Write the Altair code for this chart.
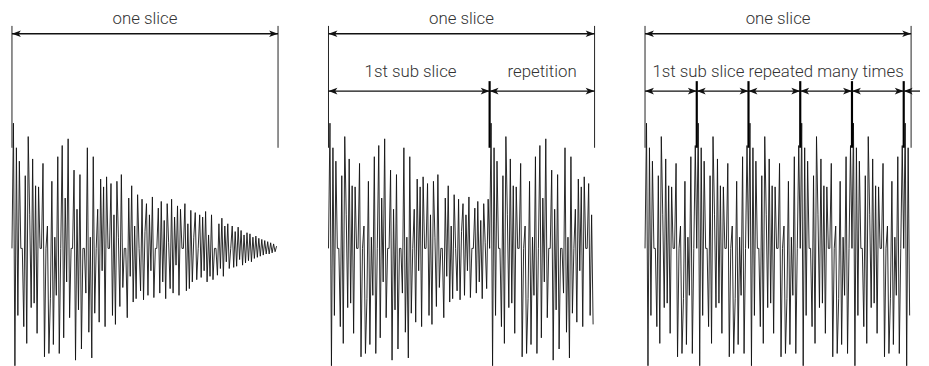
import altair as alt
import pandas as pd

# Waveform samples of the full slice (panel 1)
base_wave = [
    # first 35 samples (the short sub slice of panel 3)
    0.00, 1.12, -1.05, 0.90, -0.60, 0.78, 0.00, 0.00, -0.70, 0.65,
    -0.85, 1.00, 0.30, -0.53, 0.80, -0.49, 0.56, -0.76, 0.55, 0.00,
    0.00, 0.76, -0.97, 0.00, 0.20, -0.94, -0.45, 0.60, -0.86, 0.10,
    -0.42, 0.82, -0.94, 0.00, 0.92,
    # 35..55
    -0.80, 0.45, -0.30, 0.98, -0.62, 0.00, 0.00, 0.70, -1.00, 0.35,
    -0.55, 0.66, -0.90, 0.00, 0.00, -0.40, 0.90, -0.75, 0.10, -0.98, 0.82,
    # 56..83
    -0.58, 0.00, 0.35, -0.66, 0.62, -0.20, 0.55, -0.70, 0.64, 0.00,
    0.00, 0.58, -0.60, 0.30, -0.68, 0.60, 0.10, -0.52, 0.66, -0.35,
    0.00, 0.00, -0.62, 0.45, -0.25, 0.56, -0.48, 0.20,
    # 84..120
    -0.45, 0.48, 0.00, -0.38, 0.44, -0.46, 0.15, 0.40, -0.42, 0.30,
    -0.20, 0.46, -0.44, 0.00, 0.00, 0.36, -0.40, 0.42, -0.30, 0.25,
    -0.45, 0.40, 0.05, -0.36, 0.44, -0.40, 0.28, -0.15, 0.38, -0.42,
    0.35, 0.00, 0.00, 0.40, -0.38, 0.22, -0.36,
    # 121..145
    0.34, -0.30, 0.10, 0.32, -0.28, 0.00, 0.30, -0.26, 0.28, -0.20,
    0.33, -0.30, 0.12, -0.25, 0.30, -0.28, 0.00, 0.00, -0.24, 0.22,
    -0.18, 0.27, -0.25, 0.20, -0.12,
    # 146..165
    0.22, -0.18, 0.00, 0.20, -0.17, 0.15, -0.16, 0.19, -0.10, 0.16,
    -0.15, 0.12, -0.13, 0.14, -0.11, 0.13, -0.12, 0.10, -0.09, 0.11,
    # 166..179
    -0.08, 0.09, -0.07, 0.08, -0.06, 0.07, -0.05, 0.06, -0.05, 0.05,
    -0.04, 0.04, -0.03, 0.02,
]
slice_len = 180          # samples in one slice
sub_len_2 = 109          # first sub slice in panel 2
sub_len_3 = 35           # first sub slice in panel 3

panel2_wave = base_wave[:sub_len_2] + base_wave[:slice_len - sub_len_2]
panel3_wave = (base_wave[:sub_len_3] * 6)[:slice_len]
waves = [base_wave, panel2_wave, panel3_wave]

# annotation levels (same units as waveform amplitude)
TEXT_Y = 2.05
ARROW_Y = 1.92
SUB_TEXT_Y = 1.575
SUB_ARROW_Y = 1.407
LINE_TOP = 1.99
THICK_TOP = 1.496
LINE_BOTTOM = 0.90

labels = [
    [("one slice", 90, TEXT_Y)],
    [("one slice", 90, TEXT_Y), ("1st sub slice", 55.5, SUB_TEXT_Y), ("repetition", 144.5, SUB_TEXT_Y)],
    [("one slice", 90, TEXT_Y), ("1st sub slice repeated many times", 90, SUB_TEXT_Y)],
]
arrows = [
    [(0, 180, ARROW_Y, True)],
    [(0, 180, ARROW_Y, True), (0, 109, SUB_ARROW_Y, True), (109, 180, SUB_ARROW_Y, True)],
    [(0, 180, ARROW_Y, True), (0, 35, SUB_ARROW_Y, True), (35, 70, SUB_ARROW_Y, True),
     (70, 105, SUB_ARROW_Y, True), (105, 140, SUB_ARROW_Y, True), (140, 175, SUB_ARROW_Y, True),
     (175, 186, SUB_ARROW_Y, False)],
]
thin_lines = [[0, 180], [0, 180], [0, 180]]
thick_lines = [[], [109], [35, 70, 105, 140, 175]]

XDOM = [0, 180]
YDOM = [-1.035, 2.115]
xs = alt.Scale(domain=XDOM, nice=False, zero=False)
ys = alt.Scale(domain=YDOM, nice=False, zero=False)

RIGHT_HEAD = "M1,0 L-1,-0.75 L-0.5,0 L-1,0.75 Z"
LEFT_HEAD = "M-1,0 L1,-0.75 L0.5,0 L1,0.75 Z"


def panel(i):
    wdf = pd.DataFrame({"x": list(range(len(waves[i]))), "y": waves[i]})
    wave = alt.Chart(wdf).mark_line(color="#111", strokeWidth=0.9).encode(
        x=alt.X("x:Q", scale=xs, axis=None),
        y=alt.Y("y:Q", scale=ys, axis=None),
    )
    tl = pd.DataFrame({"x": thin_lines[i], "y": [LINE_TOP] * 2, "y2": [LINE_BOTTOM] * 2})
    thin = alt.Chart(tl).mark_rule(color="#222", strokeWidth=1).encode(
        x=alt.X("x:Q", scale=xs), y=alt.Y("y:Q", scale=ys), y2="y2:Q")
    layers = [wave, thin]
    if thick_lines[i]:
        kl = pd.DataFrame({"x": thick_lines[i], "y": [THICK_TOP] * len(thick_lines[i]),
                           "y2": [LINE_BOTTOM] * len(thick_lines[i])})
        layers.append(alt.Chart(kl).mark_rule(color="#000", strokeWidth=2.2).encode(
            x=alt.X("x:Q", scale=xs), y=alt.Y("y:Q", scale=ys), y2="y2:Q"))
    adf = pd.DataFrame([{"x": a, "x2": b, "y": y} for a, b, y, _ in arrows[i]])
    layers.append(alt.Chart(adf).mark_rule(color="#111", strokeWidth=1.3).encode(
        x=alt.X("x:Q", scale=xs), x2="x2:Q", y=alt.Y("y:Q", scale=ys)))
    lh = pd.DataFrame([{"x": a, "y": y} for a, b, y, _ in arrows[i]])
    rh = pd.DataFrame([{"x": b, "y": y} for a, b, y, r in arrows[i] if r])
    layers.append(alt.Chart(lh).mark_point(shape=LEFT_HEAD, size=81, filled=True, opacity=1,
                                           color="#111", xOffset=4.5).encode(
        x=alt.X("x:Q", scale=xs), y=alt.Y("y:Q", scale=ys)))
    layers.append(alt.Chart(rh).mark_point(shape=RIGHT_HEAD, size=81, filled=True, opacity=1,
                                           color="#111", xOffset=-4.5).encode(
        x=alt.X("x:Q", scale=xs), y=alt.Y("y:Q", scale=ys)))
    ldf = pd.DataFrame([{"label": t, "x": x, "y": y} for t, x, y in labels[i]])
    layers.append(alt.Chart(ldf).mark_text(font="Roboto", fontWeight=300, fontSize=17,
                                           color="#333", baseline="middle").encode(
        x=alt.X("x:Q", scale=xs), y=alt.Y("y:Q", scale=ys), text="label:N"))
    return alt.layer(*layers).properties(width=269, height=356)


chart = alt.hconcat(panel(0), panel(1), panel(2), spacing=48).properties(
    padding={"left": 2, "top": 0, "right": 0, "bottom": 0}
).configure_view(stroke=None).configure_concat(spacing=48)

chart.save("out.html", embed_options={"renderer": "svg", "actions": False})
